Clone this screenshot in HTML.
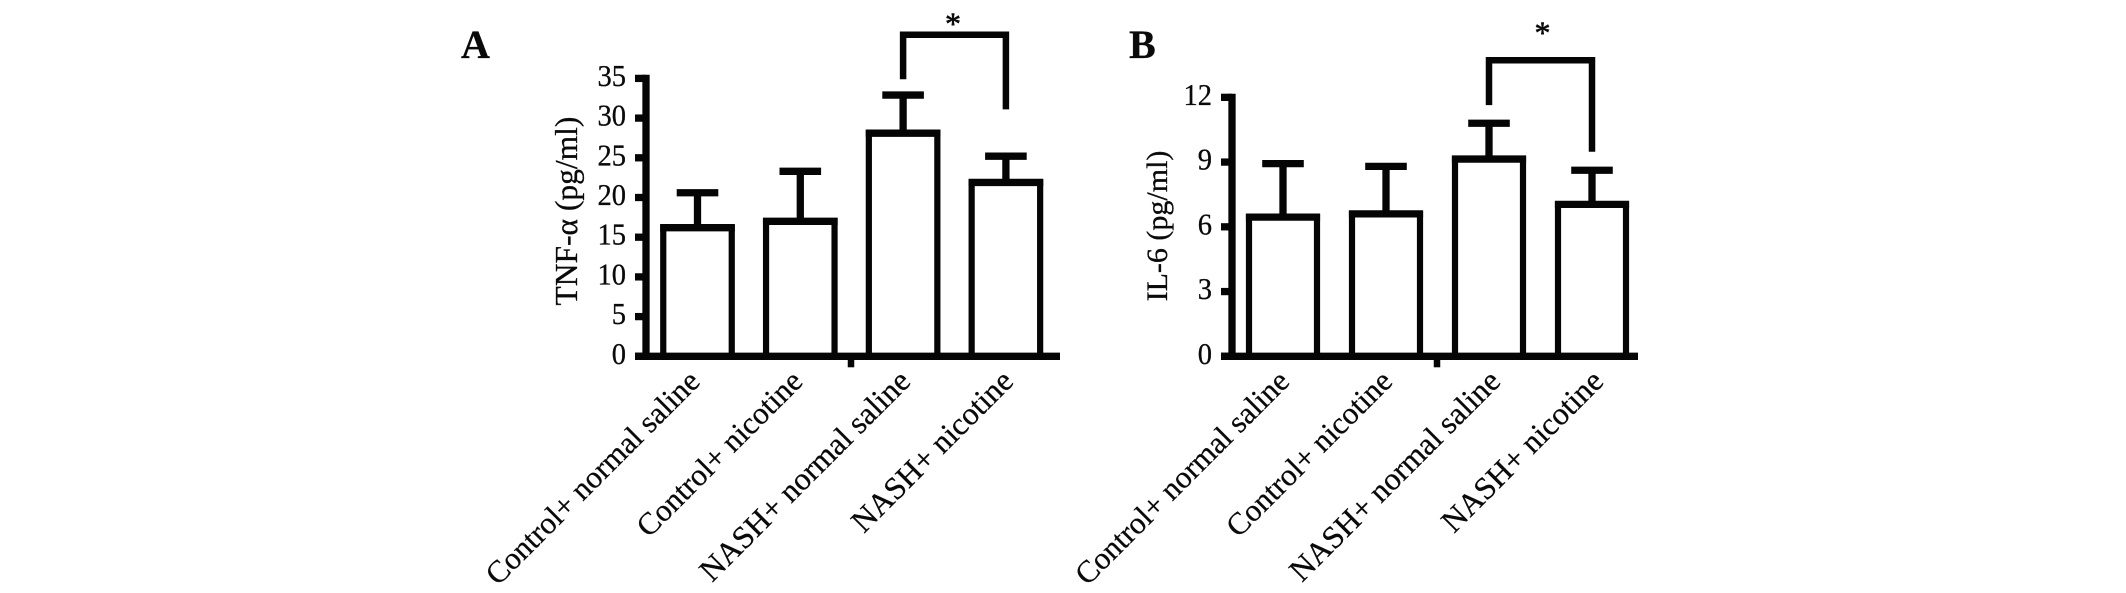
<!DOCTYPE html>
<html lang="en">
<head>
<meta charset="utf-8">
<title>TNF-α and IL-6 bar charts</title>
<style>
html,body{margin:0;padding:0;background:#fff;width:2126px;height:593px;overflow:hidden}
svg{display:block}
text{font-family:"Liberation Serif",serif;fill:#0a0a0a;stroke:#0a0a0a;stroke-width:.3}
</style>
</head>
<body>
<svg id="figure" xmlns="http://www.w3.org/2000/svg" width="2126" height="593" viewBox="0 0 2126 593">
  <rect x="0" y="0" width="2126" height="593" fill="#fff"/>
  <text x="461" y="58" font-size="40" font-weight="bold">A</text>
  <text x="1129" y="58" font-size="40" font-weight="bold">B</text>
</svg>
<script>
const categories = ['Control+ normal saline', 'Control+ nicotine', 'NASH+ normal saline', 'NASH+ nicotine'];

const tnfMeans = [16.2, 17.0, 28.1, 21.9];
const tnfErrorTops = [20.6, 23.3, 32.9, 25.2];
const tnfTicks = [0, 5, 10, 15, 20, 25, 30, 35];
const tnfBracket = [40.5, 34.9, 31.1];

const il6Means = [6.45, 6.6, 9.14, 7.04];
const il6ErrorTops = [8.93, 8.8, 10.8, 8.62];
const il6Ticks = [0, 3, 6, 9, 12];
const il6Bracket = [13.72, 11.64, 9.48];

const svg = document.getElementById('figure');
const NS = 'http://www.w3.org/2000/svg';
const INK = '#050505';
const THICK = 7.3;

function shape(tag, attrs, parent) {
  const el = document.createElementNS(NS, tag);
  for (const k in attrs) el.setAttribute(k, attrs[k]);
  parent.appendChild(el);
  return el;
}

function drawPanel(p) {
  const g = shape('g', {}, svg);
  
  

  const y = v => p.y0 - v * p.pxPerUnit;
  const x = i => p.x0 + i * p.step;

  // y-axis spine
  const spine = shape('line', {x1: p.spineX, x2: p.spineX, y1: y(p.ticks[p.ticks.length - 1]) - 3.6, y2: p.y0 + 3.6, stroke: INK, 'stroke-width': THICK}, g);
  
  

  // y ticks and labels
  p.ticks.forEach(t => {
    const tick = shape('line', {x1: p.spineX - 11, x2: p.spineX, y1: y(t), y2: y(t), stroke: INK, 'stroke-width': THICK}, g);
    
    
    const lab = shape('text', {transform: 'translate(' + p.tickLabelX + ',' + (y(t) + 7.5) + ') scale(0.92,1)', 'text-anchor': 'end', 'font-size': 31}, g);
    lab.textContent = String(t);
    
    
  });

  // y title
  const title = shape('text', {transform: 'translate(' + p.titleX + ',' + p.titleY + ') rotate(-90)', 'text-anchor': 'middle', 'font-size': p.titleSize}, g);
  title.textContent = p.title;
  
  

  // bars and error bars
  categories.forEach((c, i) => {
    const cx = x(i);
    const stem = shape('line', {x1: cx, x2: cx, y1: y(p.errs[i]), y2: y(p.means[i]), stroke: INK, 'stroke-width': THICK}, g);
    
    
    const cap = shape('line', {x1: cx - 20.8, x2: cx + 20.8, y1: y(p.errs[i]), y2: y(p.errs[i]), stroke: INK, 'stroke-width': THICK}, g);
    
    
    const bar = shape('rect', {x: cx - p.barW / 2, y: y(p.means[i]), width: p.barW, height: p.y0 - y(p.means[i]), fill: '#fff', stroke: INK, 'stroke-width': 6.2}, g);
    
    
    const top = shape('line', {x1: cx - p.barW / 2 - 3.1, x2: cx + p.barW / 2 + 3.1, y1: y(p.means[i]), y2: y(p.means[i]), stroke: INK, 'stroke-width': THICK}, g);
    
    
    const lab = shape('text', {transform: 'translate(' + (cx + p.labelDx + (i >= 2 ? 5 : 0)) + ',' + p.labelY + ') rotate(-45)', 'text-anchor': 'end', 'font-size': i >= 2 ? 31.6 : 31}, g);
    lab.textContent = c;
    
    
  });

  // x axis
  const axis = shape('line', {x1: p.spineX - 11, x2: p.axisEnd, y1: p.y0, y2: p.y0, stroke: INK, 'stroke-width': THICK}, g);
  
  
  const mid = shape('line', {x1: p.midTick, x2: p.midTick, y1: p.y0, y2: p.y0 + 11, stroke: INK, 'stroke-width': 6.5}, g);
  
  

  // significance bracket between the third and fourth bars
  const bx1 = x(2), bx2 = x(3);
  const path = 'M' + bx1 + ' ' + y(p.bracket[1]) + 'V' + y(p.bracket[0]) + 'H' + bx2 + 'V' + y(p.bracket[2]);
  const br = shape('path', {d: path, fill: 'none', stroke: INK, 'stroke-width': 6.5}, g);
  
  
  const star = shape('text', {x: (bx1 + bx2) / 2 + p.starDx, y: p.starY, 'text-anchor': 'middle', 'font-size': 32, style: 'stroke-width:.6'}, g);
  star.textContent = '*';
  
  
}

drawPanel({
  id: 'tnf', title: 'TNF-α (pg/ml)', titleSize: 31.5, means: tnfMeans, errs: tnfErrorTops, ticks: tnfTicks, bracket: tnfBracket,
  y0: 356.3, pxPerUnit: 7.94, x0: 697.5, step: 102.8, barW: 68.5,
  spineX: 646, axisEnd: 1060, midTick: 851, tickLabelX: 626,
  titleX: 577, titleY: 211, labelDx: 4, labelY: 383, starY: 34.3, starDx: -1.5
});
drawPanel({
  id: 'il6', title: 'IL-6 (pg/ml)', titleSize: 30, means: il6Means, errs: il6ErrorTops, ticks: il6Ticks, bracket: il6Bracket,
  y0: 356.3, pxPerUnit: 21.58, x0: 1283, step: 103, barW: 68,
  spineX: 1232, axisEnd: 1638, midTick: 1437, tickLabelX: 1212,
  titleX: 1167, titleY: 226, labelDx: 8, labelY: 383, starY: 43.3, starDx: 2
});
</script>
</body>
</html>
